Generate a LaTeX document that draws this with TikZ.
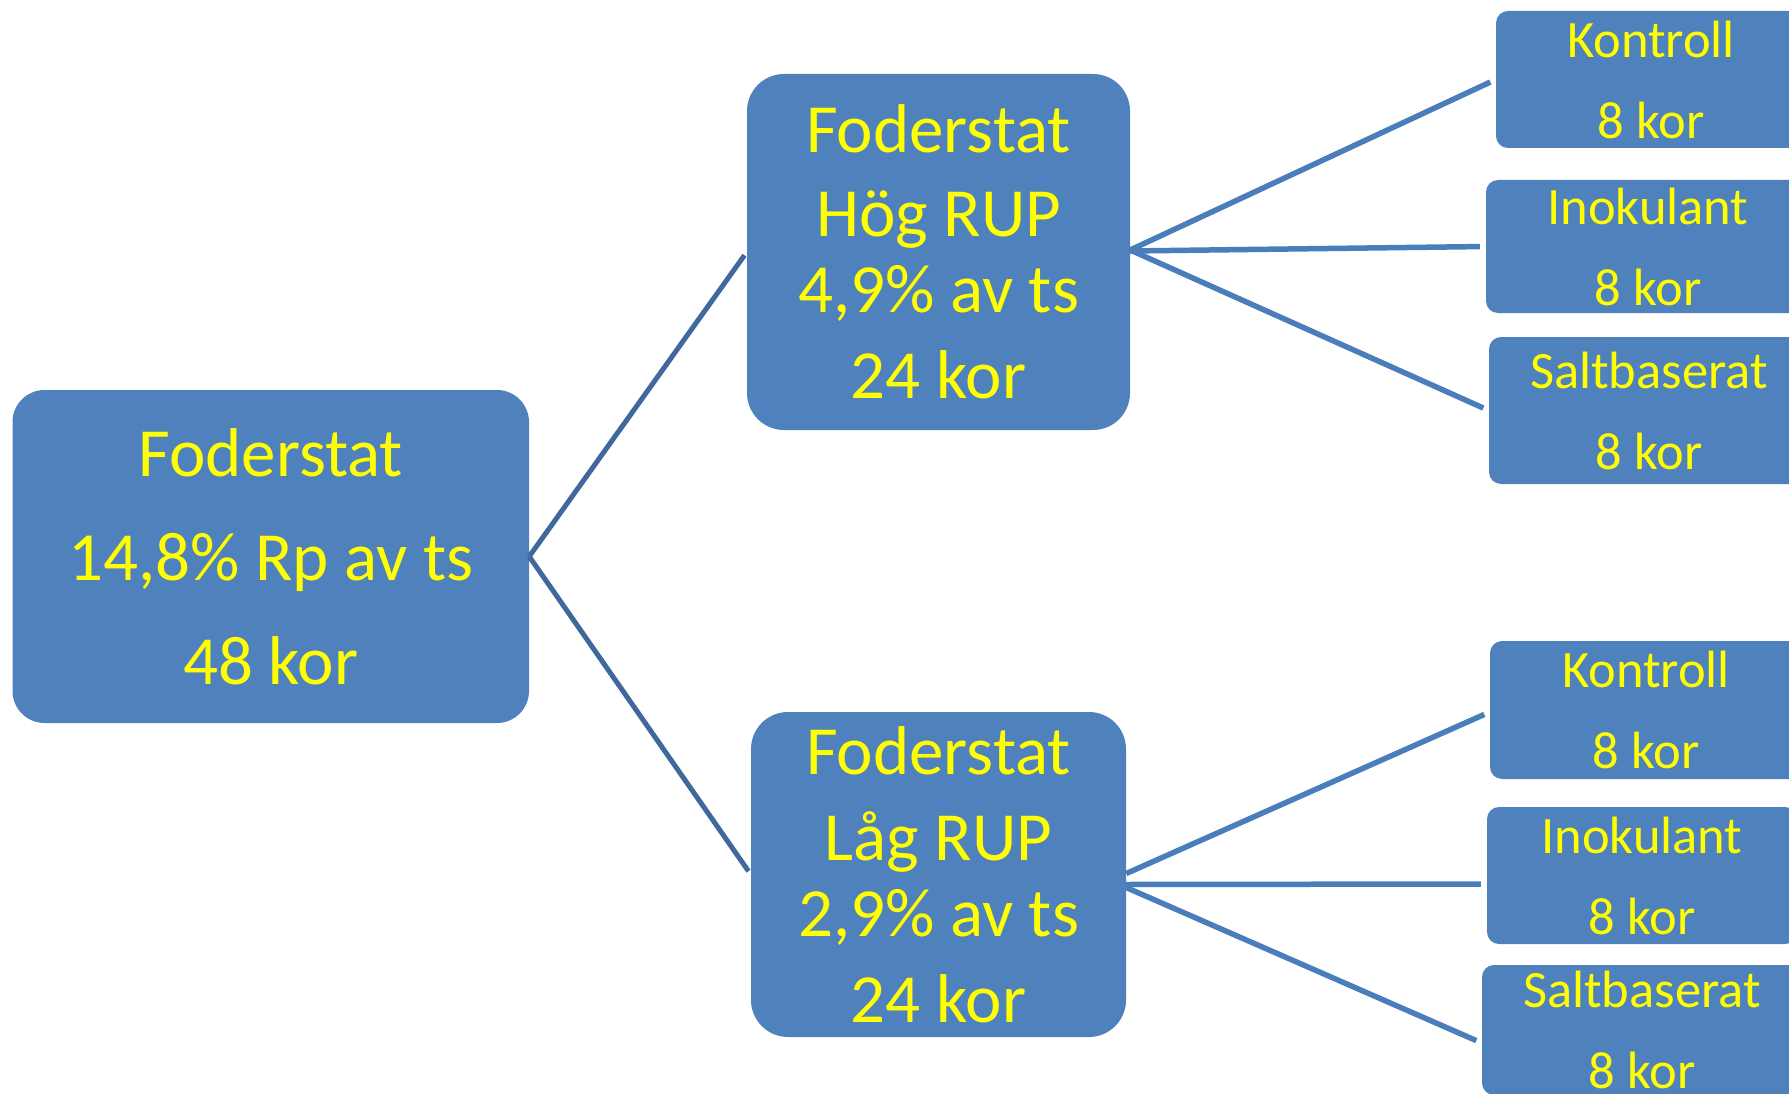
\documentclass[tikz,border=0pt]{standalone}
\usepackage{fontspec}
\setmainfont{Carlito}
\definecolor{boxblue}{HTML}{4F81BD}
\definecolor{linkdark}{HTML}{3F699C}
\definecolor{linklight}{HTML}{4A7EBB}
\definecolor{labelyellow}{HTML}{FFFF00}
\begin{document}
\begin{tikzpicture}[x=1pt,y=-1pt,
  box/.style={fill=boxblue, text=labelyellow, align=center, inner sep=0pt,
              rounded corners=#1},
  box/.default=12pt,
  bigtext/.style={font={\fontsize{69}{#1}\selectfont}},
  smalltext/.style={font={\fontsize{52.5}{81}\selectfont}},
  rootlink/.style={draw=linkdark, line width=5pt, shorten >=4pt},
  leaflink/.style={draw=linklight, line width=5.5pt, shorten >=6pt}]

\useasboundingbox (0,0) rectangle (1789,1094);
\clip (0,0) rectangle (1789,1094);

% root group
\node[box=32pt, bigtext=104, minimum width=516.5pt, minimum height=333pt]
  (root) at (270.75,556.5) {Foderstat\\14,8\% Rp av ts\\48 kor};

% second level
\node[box=37pt, bigtext=86, minimum width=383pt, minimum height=356pt]
  (hi) at (938.5,252) {Foderstat\\[-2pt]Hög RUP\\[-10pt]4,9\% av ts\\24 kor};
\node[box=37pt, bigtext=86, minimum width=375pt, minimum height=325pt]
  (lo) at (938.5,874.5) {Foderstat\\Låg RUP\\[-10pt]2,9\% av ts\\24 kor};

% leaves under "Hög RUP"
\node[box, smalltext, minimum width=310pt, minimum height=137pt]
  (k1) at (1651,79.5) {Kontroll\\8 kor};
\node[box, smalltext, minimum width=324pt, minimum height=133pt]
  (i1) at (1648,246.5) {Inokulant\\8 kor};
\node[box, smalltext, minimum width=320pt, minimum height=147pt]
  (s1) at (1649,410.5) {Saltbaserat\\8 kor};

% leaves under "Låg RUP"
\node[box, smalltext, minimum width=312pt, minimum height=138pt]
  (k2) at (1646,710) {Kontroll\\8 kor};
\node[box, smalltext, minimum width=310pt, minimum height=137pt]
  (i2) at (1642,875.5) {Inokulant\\8 kor};
\node[box, smalltext, minimum width=320pt, minimum height=130pt]
  (s2) at (1642,1030) {Saltbaserat\\8 kor};

% connectors
\draw[rootlink] (root.east) -- (hi.west);
\draw[rootlink] (root.east) -- (lo.west);
\draw[leaflink] ([yshift=2pt]hi.east) -- (k1.west);
\draw[leaflink] ([yshift=1pt]hi.east) -- (i1.west);
\draw[leaflink] ([yshift=2pt]hi.east) -- (s1.west);
\draw[leaflink] ([yshift=1pt]lo.east) -- ([yshift=-2pt]k2.west);
\draw[leaflink] ([yshift=-10pt]lo.east) -- ([yshift=-8.5pt]i2.west);
\draw[leaflink] ([yshift=-13pt]lo.east) -- ([yshift=-13pt]s2.west);
\end{tikzpicture}
\end{document}
